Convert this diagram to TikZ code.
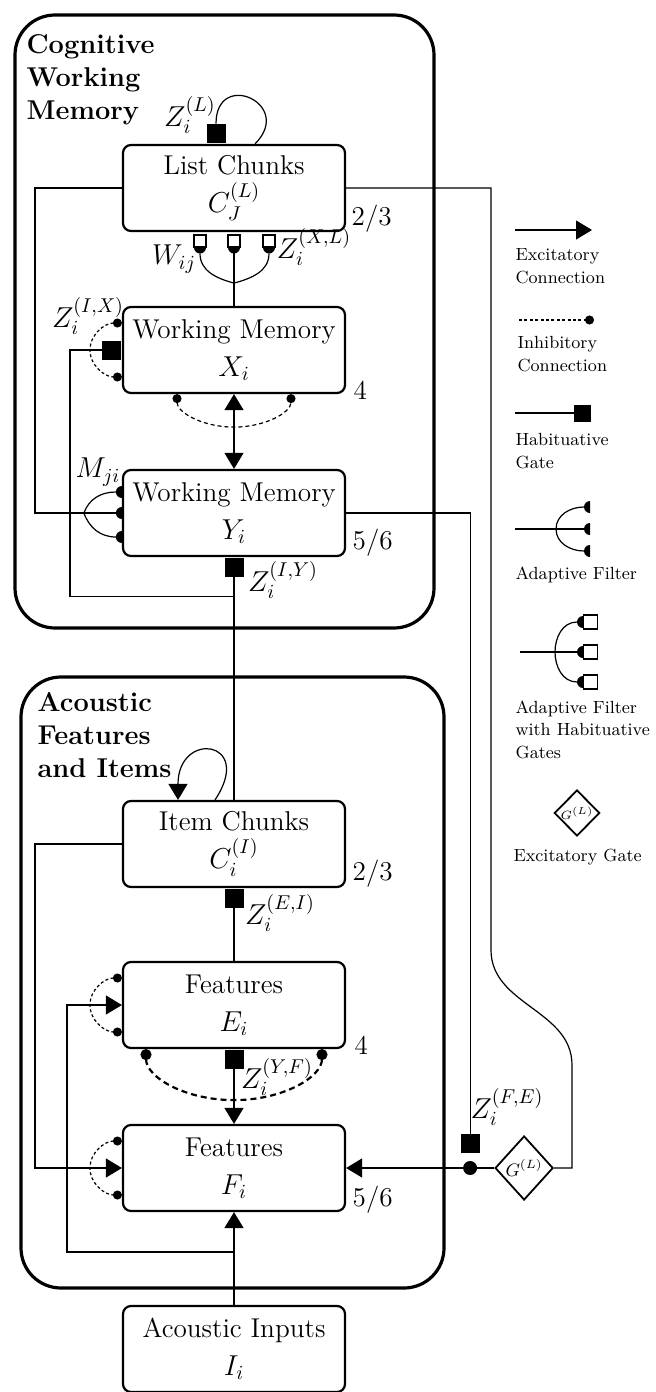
\documentclass[tikz,border=0pt]{standalone}
\usepackage{amsmath}
\usetikzlibrary{positioning,arrows.meta,calc,shapes.geometric}

\begin{document}
\begin{tikzpicture}[x=0.5pt,y=0.5pt,line width=0.6pt,>={Triangle[length=8pt,width=9.5pt]},
    box/.style={draw,rectangle,rounded corners=4pt,line width=1.1pt,minimum width=111pt,minimum height=43pt,inner sep=1pt,align=center,font=\fontsize{13.6}{19}\selectfont},
    area/.style={draw,rounded corners=20pt,line width=1.6pt},
    title/.style={anchor=north west,inner sep=0pt,align=left,font=\fontsize{13.6}{16.5}\selectfont\bfseries},
    lab/.style={inner sep=0pt,font=\fontsize{13.6}{16}\selectfont},
    num/.style={lab,anchor=west},
    leg/.style={anchor=north west,inner sep=0pt,align=left,font=\fontsize{8.8}{11.3}\selectfont},
    gate/.style={fill=black,minimum size=9.5pt,inner sep=0pt},
    hgate/.style={draw,fill=white,line width=0.7pt,minimum size=6pt,inner sep=0pt},
    inh/.style={{Circle[length=4.5pt]}-{Circle[length=4.5pt]},dash pattern=on 1.5pt off 1.2pt},
    egate/.style={draw,diamond,line width=0.9pt,inner sep=0pt},
    hdisc/.pic={\fill (0,6) arc[start angle=90,end angle=270,radius=6] -- cycle;}]
    \useasboundingbox (0,0) rectangle (656,-1392);
    \draw[area] (15,-15) rectangle (434,-628);
    \draw[area] (21,-677) rectangle (444,-1288);
    \node[title] (cwm) at (26,-34) {Cognitive\\Working\\Memory};
    \node[title] (afi) at (37,-692) {Acoustic\\Features\\and Items};

    \node[box] (list_chunks) at (234,-188) {List Chunks\\$C_J^{(L)}$};
    \path (list_chunks) ++ (0,-162) node[box] (wm_x) {Working Memory\\$X_i$};
    \path (wm_x) ++ (0,-163) node[box] (wm_y) {Working Memory\\$Y_i$};
    \path (wm_y) ++ (0,-331) node[box] (item_chunks) {Item Chunks\\$C_i^{(I)}$};
    \path (item_chunks) ++ (0,-161) node[box] (feat_e) {Features\\$E_i$};
    \path (feat_e) ++ (0,-163) node[box] (feat_f) {Features\\$F_i$};
    \path (feat_f) ++ (0,-181) node[box] (inputs) {Acoustic Inputs\\$I_i$};

    \node[num] (n_lc) at ($(list_chunks.south east)+(5,13)$) {2/3};
    \node[num] (n_x) at ($(wm_x.south east)+(7,4)$) {4};
    \node[num] (n_y) at ($(wm_y.south east)+(6,14)$) {5/6};
    \node[num] (n_ic) at ($(item_chunks.south east)+(6,14)$) {2/3};
    \node[num] (n_e) at ($(feat_e.south east)+(8,4)$) {4};
    \node[num] (n_f) at ($(feat_f.south east)+(6,12)$) {5/6};

    \node[gate,anchor=south] (z_l) at ($(list_chunks.north)+(-18,0)$) {};
    \draw (z_l.north) .. controls +(0,55) and +(40,40) .. ($(list_chunks.north)+(21,0)$);
    \node[lab] (z_l_lab) at (190,-115) {$Z_i^{(L)}$};

    \coordinate (m_w) at ($(list_chunks.south)+(0,-51)$);
    \foreach \dx [count=\k] in {-34,0,35}
        \node[hgate,anchor=north] (w_g\k) at ($(list_chunks.south)+(\dx,-2)$) {};
    \draw (wm_x.north) -- (m_w) -- (w_g2.south);
    \draw (m_w) to[out=165,in=-90] ($(w_g1.south)+(0,-6)$);
    \draw (m_w) to[out=15,in=-90] ($(w_g3.south)+(0,-6)$);
    \foreach \k in {1,2,3}
        \pic[rotate=90] at (w_g\k.south) {hdisc};
    \node[lab] (w_ij) at (174,-259) {$W_{ij}$};
    \node[lab] (z_xl) at (314,-247) {$Z_i^{(X,L)}$};

    \coordinate (j_y) at ($(wm_y.south)+(0,-39)$);
    \node[gate,anchor=east] (z_ix) at (wm_x.west) {};
    \draw[inh] ($(wm_x.west)+(0,27)$) arc[start angle=90,end angle=270,x radius=32,y radius=27];
    \draw (z_ix.west) -| ($(j_y)+(-164,0)$) -- (j_y);
    \node[lab] (z_ix_lab) at (88,-316) {$Z_i^{(I,X)}$};
    \draw[inh,dash pattern=on 2pt off 1.5pt] ($(wm_x.south)+(-57,0)$) arc[start angle=180,end angle=360,x radius=57,y radius=33];
    \draw[<->] (wm_x.south) -- (wm_y.north);

    \coordinate (m_m) at ($(wm_y.west)+(-38,0)$);
    \draw (list_chunks.west) -| ($(wm_y.west)+(-87,0)$) -- (wm_y.west);
    \draw (m_m) to[out=70,in=180] ($(wm_y.west)+(-6,21)$);
    \draw (m_m) to[out=-70,in=180] ($(wm_y.west)+(-6,-24)$);
    \foreach \dy in {21,0,-24}
        \pic at ($(wm_y.west)+(0,\dy)$) {hdisc};
    \node[lab] (m_ji) at (98,-472) {$M_{ji}$};

    \node[gate,anchor=north] (z_iy) at (wm_y.south) {};
    \draw (z_iy.south) -- (item_chunks.north);
    \node[lab] (z_iy_lab) at (283,-580) {$Z_i^{(I,Y)}$};

    \path (feat_f.east) ++ (178,0) node[egate,minimum width=29pt,minimum height=32pt,font=\fontsize{9}{10}\selectfont] (g_l) {$G^{(L)}$};
    \path (feat_f.east) ++ (124,0) node[circle,fill,minimum size=7pt,inner sep=0pt] (j_d) {};
    \node[gate,anchor=south] (z_fe) at ($(j_d)+(0,14)$) {};
    \draw (wm_y.east) -| (z_fe.north);
    \draw[->] (g_l.west) -- (feat_f.east);
    \node[lab] (z_fe_lab) at (507,-1107) {$Z_i^{(F,E)}$};
    \coordinate (r_1) at (491,-950);
    \coordinate (r_2) at (572,-1065);
    \draw (list_chunks.east) -| (r_1) .. controls +(0,-55) and +(0,55) .. (r_2) |- (g_l.east);

    \draw[->] ($(item_chunks.north)+(-19,0)$) .. controls +(40,60) and +(0,70) .. ($(item_chunks.north)+(-56,0)$);
    \node[gate,anchor=north] (z_ei) at (item_chunks.south) {};
    \draw (z_ei.south) -- (feat_e.north);
    \node[lab] (z_ei_lab) at (280,-913) {$Z_i^{(E,I)}$};
    \draw[->] (item_chunks.west) -| ($(feat_f.west)+(-87,0)$) -- (feat_f.west);

    \draw[inh] ($(feat_e.west)+(0,27)$) arc[start angle=90,end angle=270,x radius=32,y radius=27];
    \coordinate (j_a) at ($(inputs.north)+(0,53)$);
    \draw[->] (j_a) -| ($(feat_e.west)+(-55,0)$) -- (feat_e.west);
    \node[gate,anchor=north] (z_yf) at (feat_e.south) {};
    \draw[->] (z_yf.south) -- (feat_f.north);
    \draw[inh,{Circle[length=5.5pt]}-{Circle[length=5.5pt]},line width=1.1pt,dash pattern=on 3pt off 2pt] ($(feat_e.south)+(-88,0)$) arc[start angle=180,end angle=360,x radius=88,y radius=51];
    \node[lab] (z_yf_lab) at (277,-1077) {$Z_i^{(Y,F)}$};

    \draw[inh] ($(feat_f.west)+(0,27)$) arc[start angle=90,end angle=270,x radius=32,y radius=27];
    \draw[->] (inputs.north) -- (feat_f.south);

    \node[leg] (l_exc) at (515,-248) {Excitatory\\Connection};
    \draw[->] ($(l_exc.north west)+(0,18)$) -- ($(l_exc.north west)+(77,18)$);
    \node[leg] (l_inh) at (517,-336) {Inhibitory\\Connection};
    \draw[dash pattern=on 1.5pt off 1.2pt,-{Circle[length=4.5pt]}] ($(l_inh.north west)+(2,16)$) -- ($(l_inh.north west)+(77,16)$);
    \node[leg] (l_hab) at (515,-433) {Habituative\\Gate};
    \node[gate,anchor=east,minimum size=8.5pt] (l_g) at ($(l_hab.north west)+(77,20)$) {};
    \draw ($(l_hab.north west)+(0,20)$) -- (l_g.west);

    \node[leg] (l_fil) at (515,-566) {Adaptive Filter};
    \coordinate (l_m) at ($(l_fil.north west)+(41,37)$);
    \draw ($(l_fil.north west)+(0,37)$) -- ($(l_fil.north west)+(69,37)$);
    \draw (l_m) to[out=90,in=180] ($(l_fil.north west)+(69,59)$);
    \draw (l_m) to[out=-90,in=180] ($(l_fil.north west)+(69,15)$);
    \foreach \dy in {22,0,-22}
        \pic at ($(l_fil.north west)+(75,37+\dy)$) {hdisc};

    \node[leg] (l_gf) at (515,-700) {Adaptive Filter\\with Habituative\\Gates};
    \foreach \dy [count=\k] in {30,0,-30}
        \node[hgate,anchor=west,minimum size=7pt] (l_q\k) at ($(l_gf.north west)+(68,48+\dy)$) {};
    \coordinate (l_gm) at ($(l_gf.north west)+(40,48)$);
    \draw ($(l_gf.north west)+(5,48)$) -- ($(l_q2.west)+(-6,0)$);
    \draw (l_gm) to[out=90,in=180] ($(l_q1.west)+(-6,0)$);
    \draw (l_gm) to[out=-90,in=180] ($(l_q3.west)+(-6,0)$);
    \foreach \k in {1,2,3}
        \pic at (l_q\k.west) {hdisc};

    \node[egate,minimum width=22pt,minimum height=23pt,font=\fontsize{6}{7}\selectfont] (l_d) at (577,-813) {$G^{(L)}$};
    \node[leg] (l_eg) at (513,-848) {Excitatory Gate};
  \end{tikzpicture}
\end{document}
